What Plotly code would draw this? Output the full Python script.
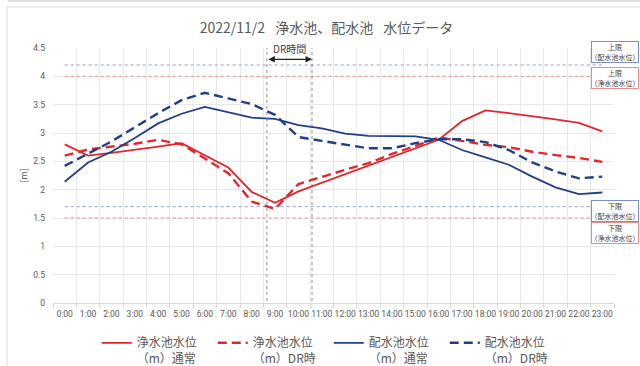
import plotly.graph_objects as go

# Hourly categories
hours = [f"{h}:00" for h in range(24)]

# Water levels [m]
purif_normal = [2.80, 2.60, 2.65, 2.70, 2.76, 2.82, 2.61, 2.39, 1.96, 1.77, 1.97, 2.12,
                2.27, 2.42, 2.57, 2.72, 2.88, 3.21, 3.40, 3.35, 3.30, 3.24, 3.18, 3.03]
purif_dr = [2.60, 2.71, 2.76, 2.81, 2.88, 2.80, 2.55, 2.29, 1.79, 1.66, 2.10, 2.23,
            2.35, 2.47, 2.63, 2.77, 2.92, 2.86, 2.79, 2.75, 2.67, 2.61, 2.56, 2.49]
dist_normal = [2.14, 2.48, 2.67, 2.91, 3.17, 3.34, 3.46, 3.36, 3.27, 3.25, 3.14, 3.08,
               2.99, 2.95, 2.95, 2.94, 2.88, 2.70, 2.57, 2.44, 2.23, 2.04, 1.92, 1.95]
dist_dr = [2.42, 2.64, 2.85, 3.10, 3.35, 3.58, 3.71, 3.61, 3.51, 3.32, 2.93, 2.86,
           2.79, 2.73, 2.73, 2.82, 2.89, 2.89, 2.84, 2.70, 2.48, 2.32, 2.20, 2.23]

# Operating limits [m]
dist_upper, purif_upper = 4.2, 4.0
dist_lower, purif_lower = 1.7, 1.5

# DR window position on the category axis
dr_start, dr_end = 8.65, 10.58

RED = "#e3262b"
BLUE = "#203f86"
GREY = "#595959"
FONT = "Noto Sans CJK JP"
TICK_FONT = "Roboto"

fig = go.Figure()

# Limit lines
for val, col in [(dist_upper, "#8a9fd0"), (purif_upper, "#f08a8a"),
                 (dist_lower, "#8a9fd0"), (purif_lower, "#f08a8a")]:
    fig.add_trace(go.Scatter(x=hours, y=[val] * len(hours), mode="lines",
                             line=dict(color=col, width=1, dash="dot"),
                             showlegend=False, hoverinfo="skip"))

series = [
    ("浄水池水位<br>（m）通常", purif_normal, RED, "solid", 1.8),
    ("浄水池水位<br>（m）DR時", purif_dr, RED, "9px,5px", 2.4),
    ("配水池水位<br>（m）通常", dist_normal, BLUE, "solid", 1.8),
    ("配水池水位<br>（m）DR時", dist_dr, BLUE, "9px,5px", 2.4),
]
for name, vals, col, dash, w in series:
    fig.add_trace(go.Scatter(x=hours, y=vals, mode="lines", name=name,
                             line=dict(color=col, width=w, dash=dash)))

# DR window markers
for xv in (dr_start, dr_end):
    fig.add_shape(type="line", xref="x", yref="y", x0=xv, x1=xv, y0=-0.07, y1=4.52,
                  line=dict(color="#707070", width=0.8, dash="dot"))
fig.add_annotation(xref="x", yref="y", x=dr_end, y=4.3, ax=dr_start, ay=4.3,
                   axref="x", ayref="y", text="", showarrow=True,
                   arrowhead=2, arrowside="end+start", arrowwidth=1.3,
                   arrowsize=1, arrowcolor="#222222")
fig.add_annotation(xref="x", yref="y", x=(dr_start + dr_end) / 2, y=4.5,
                   text="DR時間", showarrow=False,
                   font=dict(size=10, color="#404040", family=FONT))

# Limit labels
boxes = [
    ("上限<br>（配水池水位）", 0.986, "#7b8fc4"),
    ("上限<br>（浄水池水位）", 0.884, "#e58f8f"),
    ("下限<br>（配水池水位）", 0.361, "#7b8fc4"),
    ("下限<br>（浄水池水位）", 0.2745, "#e58f8f"),
]
for txt, yv, col in boxes:
    fig.add_annotation(xref="paper", yref="paper", x=1.0018, y=yv, text=txt,
                       xanchor="center", yanchor="middle",
                       showarrow=False, width=44, height=18, borderpad=1,
                       bordercolor=col, borderwidth=1, bgcolor="white",
                       font=dict(size=7, color="#404040", family=FONT))

# Chart frame
fig.add_shape(type="rect", xref="paper", yref="paper", x0=-0.082, x1=1.2,
              y0=-0.4, y1=1.161, line=dict(color="#d9d9d9", width=1), layer="below")
fig.add_shape(type="line", xref="paper", yref="paper", x0=-0.08, x1=1.2,
              y0=1.184, y1=1.184, line=dict(color="#d4d4d4", width=1.5))

fig.update_layout(
    width=640, height=366,
    margin=dict(l=53, r=26, t=48, b=63, autoexpand=False),
    paper_bgcolor="white", plot_bgcolor="white",
    font=dict(family=FONT, color=GREY),
    title=dict(text="2022/11/2\u2002 浄水池、配水池\u2002 水位データ",
               x=326.5 / 640, xanchor="center", xref="container",
               y=1 - 28 / 366, yanchor="middle", yref="container",
               font=dict(size=14, color=GREY, family=FONT)),
    legend=dict(orientation="h", x=0.078, xanchor="left", y=-0.1, yanchor="top",
                entrywidth=71, entrywidthmode="pixels", valign="top",
                font=dict(size=12, color=GREY, family=FONT),
                bgcolor="rgba(0,0,0,0)"),
    showlegend=True,
)
fig.update_xaxes(type="category", tickson="boundaries", ticks="outside", ticklen=4,
                 tickcolor="#d9d9d9", showgrid=True, gridcolor="#e8e8e8",
                 showline=True, linecolor="#d9d9d9", tickangle=0,
                 ticklabelstandoff=3,
                 tickfont=dict(size=8.5, color=GREY, family=TICK_FONT),
                 range=[-0.5, 23.5])
fig.update_yaxes(range=[0, 4.5], dtick=0.5, showgrid=True, gridcolor="#e8e8e8",
                 zeroline=False, ticks="", ticklabelstandoff=7,
                 tickfont=dict(size=8.5, color=GREY, family=TICK_FONT),
                 title=dict(text="[m]", font=dict(size=9, color=GREY), standoff=4))

fig.write_html("out.html")
